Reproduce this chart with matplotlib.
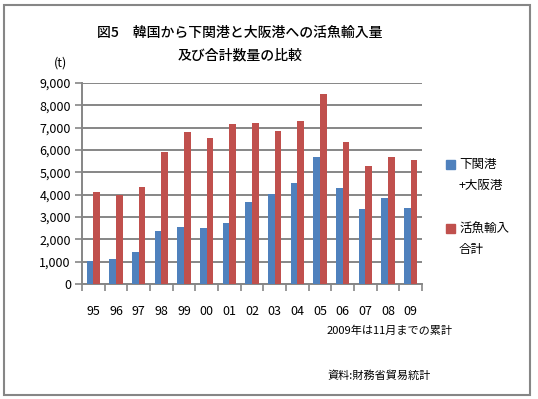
import matplotlib
matplotlib.use('Agg')
import matplotlib.pyplot as plt
import numpy as np
from matplotlib.patches import Rectangle

plt.rcParams['font.family'] = ['Noto Sans CJK JP', 'DejaVu Sans']

years = ['95', '96', '97', '98', '99', '00', '01', '02', '03', '04', '05', '06', '07', '08', '09']
# 下関港+大阪港
shimo_osaka = [1020, 1120, 1435, 2380, 2560, 2510, 2735, 3680, 4035, 4530, 5695, 4305, 3365, 3870, 3410]
# 活魚輸入合計
total_import = [4125, 3990, 4350, 5920, 6815, 6545, 7175, 7220, 6860, 7310, 8490, 6365, 5290, 5695, 5560]

blue = '#4F81BD'
red = '#C0504D'
grid_gray = '#868686'

fig = plt.figure(figsize=(5.38, 3.99), dpi=100)
ax = fig.add_axes([0.1524, 0.2882, 0.632, 0.5038])

x = np.arange(len(years))
w = 0.3
ax.bar(x - w / 2, shimo_osaka, width=w, color=blue, zorder=3)
ax.bar(x + w / 2, total_import, width=w, color=red, zorder=3)

ax.set_xlim(-0.5, len(years) - 0.5)
ax.set_ylim(0, 9000)
ax.set_yticks(range(0, 9001, 1000))
ax.set_yticklabels([f'{v:,}' for v in range(0, 9001, 1000)], fontsize=9)
ax.yaxis.grid(True, color=grid_gray, linewidth=1.4, zorder=0)

# ticks at category boundaries, labels at centres
ax.set_xticks(np.arange(-0.5, len(years), 1))
ax.set_xticklabels([])
ax.set_xticks(x, minor=True)
ax.set_xticklabels(years, minor=True, fontsize=9)
ax.tick_params(axis='x', which='major', length=5, color=grid_gray, width=1.2)
ax.tick_params(axis='x', which='minor', length=0, pad=15)
ax.tick_params(axis='y', length=5, color=grid_gray, width=1.2, pad=3)

for s in ['top', 'right']:
    ax.spines[s].set_visible(False)
for s in ['left', 'bottom']:
    ax.spines[s].set_color(grid_gray)
    ax.spines[s].set_linewidth(1.4)

# title
fig.text(0.446, 0.917, '図5　韓国から下関港と大阪港への活魚輸入量', ha='center', va='center',
         fontsize=10, fontweight='medium')
fig.text(0.446, 0.862, '及び合計数量の比較', ha='center', va='center', fontsize=10, fontweight='medium')
fig.text(0.112, 0.843, '(t)', ha='center', va='center', fontsize=9)

# legend
fig.patches.append(Rectangle((446 / 538, 1 - 169 / 399), 9 / 538, 9 / 399,
                             transform=fig.transFigure, color=blue))
fig.text(459 / 538, 1 - 164 / 399, '下関港', va='center', fontsize=9)
fig.text(459 / 538, 1 - 185 / 399, '+大阪港', va='center', fontsize=9)
fig.patches.append(Rectangle((446 / 538, 1 - 233 / 399), 9 / 538, 9 / 399,
                             transform=fig.transFigure, color=red))
fig.text(459 / 538, 1 - 229 / 399, '活魚輸入', va='center', fontsize=9)
fig.text(459 / 538, 1 - 250 / 399, '合計', va='center', fontsize=9)

# notes
fig.text(327 / 538, 1 - 331 / 399, '2009年は11月までの累計', va='center', fontsize=8)
fig.text(327 / 538, 1 - 376 / 399, '資料:財務省貿易統計', va='center', fontsize=8)

# outer frame
fig.patches.append(Rectangle((4 / 538, 4 / 399), 526 / 538, 390 / 399, transform=fig.transFigure,
                             fill=False, edgecolor=grid_gray, linewidth=1.5))

fig.savefig('out.png', dpi=100)
